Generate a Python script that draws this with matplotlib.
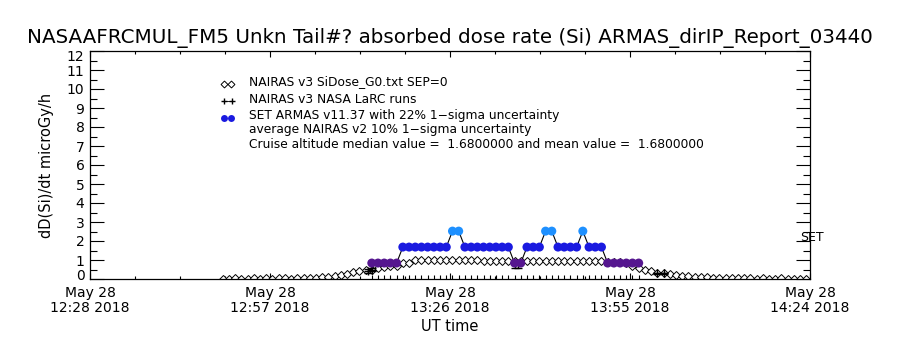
import matplotlib
matplotlib.use('Agg')
import matplotlib.pyplot as plt
import matplotlib.transforms as mtransforms
from matplotlib.lines import Line2D
import numpy as np

# x axis: minutes after 12:28 UT, May 28 2018
tick_min = [0, 29, 58, 87, 116]
tick_labels = ["May 28\n12:28 2018", "May 28\n12:57 2018", "May 28\n13:26 2018",
               "May 28\n13:55 2018", "May 28\n14:24 2018"]

# SET ARMAS dose rate, 1-min samples starting 13:13:24
armas_start = 45.4
armas_rate = [0.84, 0.84, 0.84, 0.84, 0.84,
              1.68, 1.68, 1.68, 1.68, 1.68, 1.68, 1.68, 1.68,
              2.52, 2.52,
              1.68, 1.68, 1.68, 1.68, 1.68, 1.68, 1.68, 1.68,
              0.84, 0.84,
              1.68, 1.68, 1.68,
              2.52, 2.52,
              1.68, 1.68, 1.68, 1.68,
              2.52,
              1.68, 1.68, 1.68,
              0.84, 0.84, 0.84, 0.84, 0.84, 0.84]

# NAIRAS v3 SiDose, 1-min samples starting 12:49:24
nairas_start = 21.4
nairas_rate = [0.02, 0.02, 0.03, 0.02, 0.02, 0.03, 0.02, 0.03, 0.02, 0.03,
               0.03, 0.02, 0.03, 0.03, 0.04, 0.06, 0.09, 0.12, 0.16, 0.21,
               0.28, 0.35, 0.40, 0.46, 0.50, 0.60, 0.63, 0.66, 0.70, 0.86,
               0.82, 0.98, 1.00, 1.01, 1.00, 0.99, 1.00, 1.01, 1.00, 0.99,
               1.00, 0.98, 0.97, 0.97, 0.97, 0.96, 0.97, 0.97, 0.96, 0.97,
               0.97, 0.96, 0.97, 0.95, 0.94, 0.94, 0.95, 0.94, 0.94, 0.93,
               0.94, 0.93, 0.92, 0.92, 0.88, 0.82, 0.68, 0.60, 0.50, 0.40,
               0.34, 0.30, 0.26, 0.21, 0.17, 0.15, 0.13, 0.11, 0.09, 0.07,
               0.05, 0.04, 0.04, 0.03, 0.03, 0.03, 0.02, 0.03, 0.02, 0.02,
               0.03, 0.02, 0.02, 0.02, 0.02]

# NAIRAS v3 NASA LaRC runs (pairs)
larc_time = [[44.8, 45.4], [68.4, 68.9], [91.3, 92.5]]
larc_rate = [[0.42, 0.50], [0.78, 0.78], [0.30, 0.30]]
larc_err = [[0.10, 0.10], [0.18, 0.18], [0.02, 0.02]]

level_color = {0.84: '#55168f', 1.68: '#1a1ae0', 2.52: '#1e90ff'}

armas_time = armas_start + np.arange(len(armas_rate))
nairas_time = nairas_start + np.arange(len(nairas_rate))

plt.rcParams['font.family'] = 'DejaVu Sans'
fig = plt.figure(figsize=(9, 3.5), dpi=100)
ax = fig.add_axes([0.1, 1 - 279 / 350, 0.8, 228 / 350])

# NAIRAS diamonds
ax.plot(nairas_time, nairas_rate, linestyle='none', marker='D', markersize=3.8,
        markerfacecolor='white', markeredgecolor='black', markeredgewidth=0.7)

# LaRC runs
for t, v, e in zip(larc_time, larc_rate, larc_err):
    ax.errorbar(t, v, yerr=e, fmt='+-', color='black', markersize=6,
                linewidth=0.8, capsize=3, elinewidth=0.8)

# ARMAS line, ticks and markers
ax.vlines(armas_time, 0, 0.2, color='black', linewidth=0.8)
ax.plot(armas_time, armas_rate, color='black', linewidth=0.8)
colors = [level_color[v] for v in armas_rate]
ax.scatter(armas_time, armas_rate, s=42, c=colors, marker='o', zorder=3,
           linewidths=0)

ax.text(114.4, 2.2, "SET", fontsize=9, va='center', ha='left', clip_on=False)

ax.set_xlim(0, 116)
ax.set_ylim(0, 12)
ax.set_xticks(tick_min)
ax.set_xticklabels(tick_labels, fontsize=10, linespacing=1.1)
ax.set_xticks(np.arange(0, 117, 7.25), minor=True)
ax.set_yticks(range(0, 13))
ax.set_yticklabels([str(i) for i in range(0, 13)], fontsize=10)
ax.set_yticks(np.arange(0.5, 12, 1.0), minor=True)
ax.tick_params(axis='y', which='major', direction='in', length=10, width=0.8,
               right=True, pad=4)
ax.tick_params(axis='y', which='minor', direction='in', length=5, width=0.8,
               right=True)
ax.tick_params(axis='x', which='major', direction='in', length=4.5, width=0.8,
               top=True, pad=5)
ax.tick_params(axis='x', which='minor', direction='in', length=2.5, width=0.8,
               top=True)
for s in ax.spines.values():
    s.set_linewidth(0.9)

# IDL pushes the end labels inside the axis
ylabs = ax.get_yticklabels()
ylabs[0].set_transform(ylabs[0].get_transform() +
                       mtransforms.ScaledTranslation(0, 3 / 72, fig.dpi_scale_trans))
ylabs[-1].set_transform(ylabs[-1].get_transform() +
                        mtransforms.ScaledTranslation(0, -3 / 72, fig.dpi_scale_trans))

ax.set_xlabel("UT time", fontsize=10.5, labelpad=3)
ax.set_ylabel("dD(Si)/dt microGy/h", fontsize=10.5, labelpad=9)

fig.text(0.5, 1 - 38 / 350, "NASAAFRCMUL_FM5 Unkn Tail#? absorbed dose rate (Si) "
         "ARMAS_dirIP_Report_03440", fontsize=14.3, ha='center', va='center')

# legend, drawn by hand in figure pixels
def fy(ypix):
    return 1 - ypix / 350

tf = fig.transFigure
fig.add_artist(Line2D([224 / 900, 231 / 900], [fy(84), fy(84)], transform=tf,
                      linestyle='none', marker='D', markersize=3.5,
                      markerfacecolor='white', markeredgecolor='black',
                      markeredgewidth=0.7))
fig.add_artist(Line2D([224 / 900, 232 / 900], [fy(101), fy(101)], transform=tf,
                      color='black', marker='+', markersize=5, linewidth=0.6))
fig.add_artist(Line2D([224 / 900, 231 / 900], [fy(118), fy(118)], transform=tf,
                      linestyle='none', marker='o', markersize=5,
                      markerfacecolor=level_color[1.68], markeredgewidth=0))
legend_text = [("NAIRAS v3 SiDose_G0.txt SEP=0", 82),
               ("NAIRAS v3 NASA LaRC runs", 99),
               ("SET ARMAS v11.37 with 22% 1\u2212sigma uncertainty", 116),
               ("average NAIRAS v2 10% 1\u2212sigma uncertainty", 130),
               ("Cruise altitude median value =  1.6800000 and mean value =  1.6800000", 144)]
for txt, ypix in legend_text:
    fig.text(249 / 900, fy(ypix), txt, fontsize=8.8, ha='left', va='center')

plt.savefig('out.png', dpi=100)
